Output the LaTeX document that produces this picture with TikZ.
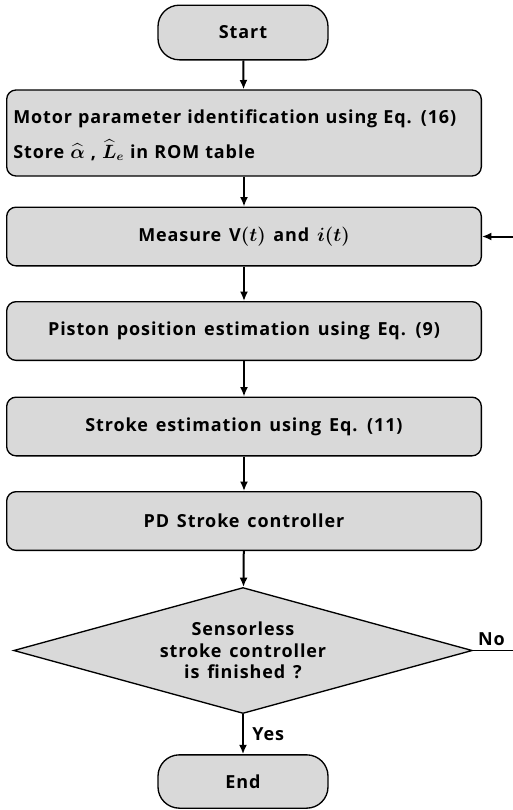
\documentclass[tikz,border=0pt]{standalone}
\usepackage{fontspec}
\setmainfont{Open Sans}[LetterSpace=5.0, WordSpace=1.4]
\usepackage{amsmath}
\usepackage{xcolor}
\usepackage{tikz}
\usetikzlibrary{arrows.meta, shapes.geometric, positioning}

\definecolor{boxgray}{HTML}{D9D9D9}

\tikzset{
  base/.style={draw, line width=1pt, fill=boxgray, inner sep=0pt,
    font=\fontsize{13.5}{16}\selectfont\bfseries\boldmath},
  proc/.style={base, rounded corners=7pt, minimum width=356pt, minimum height=44pt},
  term/.style={base, rounded corners=16pt, minimum width=127.5pt, minimum height=41pt},
  decision/.style={base, diamond, aspect=3.6, minimum width=344pt, minimum height=94.5pt, align=center},
  flow/.style={-{Latex[length=7pt,width=6pt]}, line width=1.5pt},
  lbl/.style={font=\fontsize{13.5}{16}\selectfont\bfseries}
}

\begin{document}
\begin{tikzpicture}[x=0.75pt, y=-0.75pt]
\useasboundingbox (0,0) rectangle (512,810);
% --- nodes ---
\node[term] (start) at (243,32.5) {Start};
\node[proc, minimum height=64.5pt, text width=346pt, align=left] (ident) at (244,133)
  {\rule{0pt}{14pt}Motor parameter identification using Eq. (16)\\[7.5pt]
   Store $\widehat{\alpha}$ , $\widehat{L}_e$ in ROM table};
\node[proc] (meas) at (244,236.5) {Measure $\boldsymbol{\mathrm{V}}(t)$ and $i(t)$};
\node[proc] (piston) at (244,331) {Piston position estimation using Eq. (9)};
\node[proc] (stroke) at (244,426.5) {Stroke estimation using Eq. (11)};
\node[proc] (pd) at (244,521) {PD Stroke controller};
\node[decision] (check) at (243,650.5) {Sensorless\\stroke controller\\is finished ?};
\node[term, minimum height=40pt] (end) at (243,781.5) {End};
% --- connectors ---
\draw[flow] (start) -- (ident);
\draw[flow] (ident) -- (meas);
\draw[flow] (meas) -- (piston);
\draw[flow] (piston) -- (stroke);
\draw[flow] (stroke) -- (pd);
\draw[flow] (pd) -- (check);
\draw[flow] (check) -- node[lbl, right=3pt] {Yes} (end);
% loop back on the right edge
\coordinate (back) at (514,650.5);
\draw[line width=1pt] (check.east) -- node[lbl, above, pos=0.45] {No} (back);
\draw[flow] (back) |- (meas.east);
\end{tikzpicture}
\end{document}
